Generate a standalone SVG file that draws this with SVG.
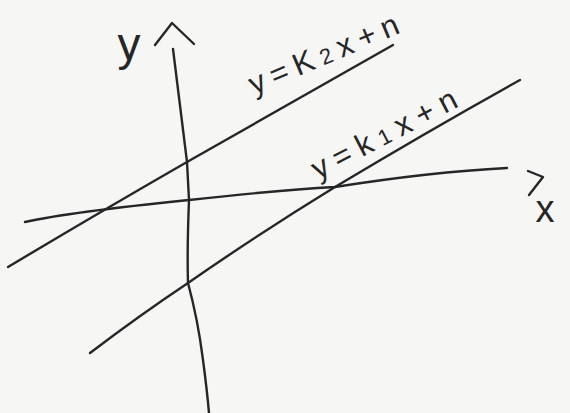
<svg xmlns="http://www.w3.org/2000/svg" width="570" height="413" viewBox="0 0 570 413">
<style>
.ln{fill:none;stroke:#262626;stroke-width:2.4;stroke-linecap:round;stroke-linejoin:round}
.lbl{font-family:"Liberation Sans","DejaVu Sans",sans-serif;fill:#262626}
</style>
<rect width="570" height="413" fill="#f6f7f5"/>
<g id="axes">
<path class="ln" d="M173,49 L187,162 L189,200 Q187,250 188,283 Q198,320 203,360 Q207,390 209,413"/>
<path class="ln" d="M155,45 L172,23 L194,44"/>
<path class="ln" d="M25,222 Q70,212 189,200 Q280,190 335,187 Q430,172 507,168"/>
<path class="ln" d="M528,171 L543,177 L529,195"/>
</g>
<g id="lines">
<path class="ln" d="M8,267 Q100,212 187,162 Q290,103 393,45"/>
<path class="ln" d="M90,353 Q140,315 188,283 Q260,233 335,187 Q430,130 520,80"/>
</g>
<g id="labels">
<text class="lbl" x="129" y="60" font-size="46" text-anchor="middle">y</text>
<text class="lbl" x="545" y="222" font-size="38" text-anchor="middle">x</text>
<text class="lbl" font-size="31" transform="translate(254,95) rotate(-23)" textLength="160" lengthAdjust="spacing">y=K<tspan font-size="22">2</tspan>x+n</text>
<text class="lbl" font-size="31" transform="translate(318,180) rotate(-27.5)" textLength="160" lengthAdjust="spacing">y=k<tspan font-size="22">1</tspan>x+n</text>
</g>
</svg>
